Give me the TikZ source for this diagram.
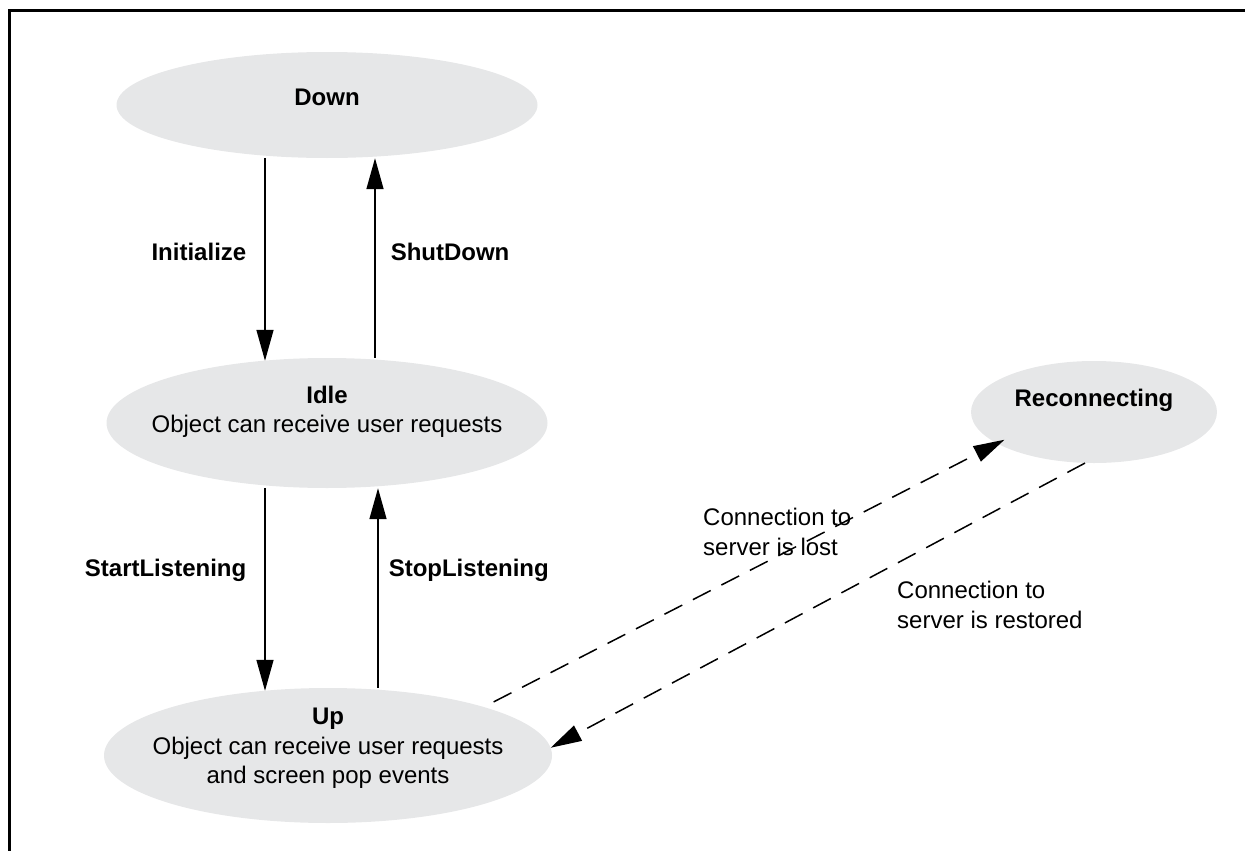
\documentclass[tikz,border=0pt]{standalone}
\usepackage{fontspec}
\setmainfont{Liberation Sans}
\usepackage{tikz}
\usetikzlibrary{arrows.meta}
\usetikzlibrary{shapes.geometric}
\definecolor{stategray}{RGB}{230,231,232}
\tikzstyle{sthead}=[>/.tip={Triangle[length=31pt,width=17pt]}]
\tikzstyle{state}=[ellipse,fill=stategray,inner sep=0pt]
\tikzstyle{stxt}=[align=center,font=\fontsize{24}{29.5}\selectfont,inner sep=0pt]
\tikzstyle{tr}=[line width=1.5pt,sthead,->]
\tikzstyle{trd}=[tr,dash pattern=on 20pt off 12pt]
\tikzstyle{trlab}=[font=\fontsize{24}{29.5}\selectfont\bfseries,inner sep=0pt]
\tikzstyle{note}=[align=left,font=\fontsize{24}{29.5}\selectfont,inner sep=0pt,anchor=west]
\begin{document}
\begin{tikzpicture}[x=1pt,y=-1pt]
	\useasboundingbox (0,0) rectangle (1245,851);
	\draw[line width=3pt] (9.5,851) |- (1245,10.5);
	% states
	\node[state,minimum width=421pt,minimum height=106pt] (down)   at (327,105)   {};
	\node[state,minimum width=441pt,minimum height=130pt] (idle)   at (327,423)   {};
	\node[state,minimum width=448pt,minimum height=135pt] (up)     at (328,755.5) {};
	\node[state,minimum width=246pt,minimum height=102pt] (reconn) at (1094,412)  {};
	\node[stxt] (down-t)   at ([yshift=8pt]down.center)    {\textbf{Down}};
	\node[stxt] (idle-t)   at ([yshift=11pt]idle.center)   {\textbf{Idle}\\Object can receive user requests};
	\node[stxt] (up-t)     at ([yshift=7pt]up.center)      {\textbf{Up}\\Object can receive user requests\\and screen pop events};
	\node[stxt] (reconn-t) at ([yshift=12pt]reconn.center) {\textbf{Reconnecting}};
	% transitions
	\coordinate (xl)  at (265,0);
	\coordinate (xr)  at (375,0);
	\coordinate (xr2) at (378,0);
	\draw[tr,shorten >=-3pt] (down.south -| xl) --node[trlab,pos=.47,left=18pt]{Initialize} (idle.north -| xl);
	\draw[tr] (idle.north -| xr) --node[trlab,pos=.53,right=15pt]{ShutDown} (down.south -| xr);
	\draw[tr,shorten >=-3pt] (idle.south -| xl) --node[trlab,pos=.41,left=18pt]{StartListening} (up.north -| xl);
	\draw[tr] (up.north -| xr2) --node[trlab,pos=.59,right=10pt]{StopListening} (idle.south -| xr2);
	\draw[trd] ([xshift=13pt,yshift=4pt]up.18) -- ([xshift=14pt]reconn.195);
	\draw[trd] (reconn.260) -- (up.2);
	\node[note] (lost)     at (703,532) {Connection to\\server is lost};
	\node[note] (restored) at (897,605) {Connection to\\server is restored};
\end{tikzpicture}
\end{document}
